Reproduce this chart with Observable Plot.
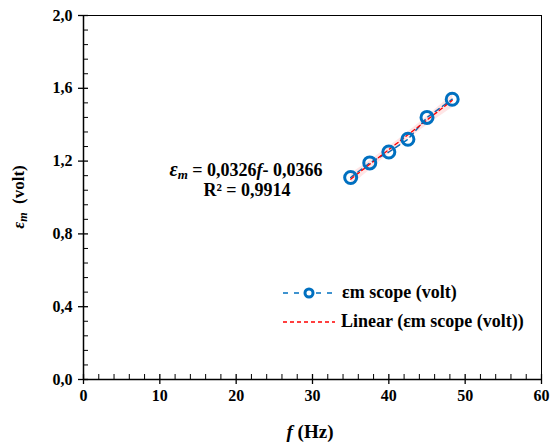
<!DOCTYPE html>
<html><head><meta charset="utf-8">
<script src="https://cdn.jsdelivr.net/npm/d3@7"></script>
<script src="https://cdn.jsdelivr.net/npm/@observablehq/plot@0.6"></script>
<style>
body{margin:0;background:#fff;}
#chart{position:relative;width:550px;height:446px;}
</style>
</head><body><div id="chart"></div>
<script>
// Data
const freq = [35, 37.5, 40, 42.5, 45, 48.3];
const emf  = [1.11, 1.19, 1.25, 1.32, 1.44, 1.54];
const xTicks = [0, 10, 20, 30, 40, 50, 60];
const yTicks = [0, 0.4, 0.8, 1.2, 1.6, 2.0];
const xMinorTicks = [2,4,6,8,12,14,16,18,22,24,26,28,32,34,36,38,42,44,46,48,52,54,56,58];
const yMinorTicks = [0.08,0.16,0.24,0.32,0.48,0.56,0.64,0.72,0.88,0.96,1.04,1.12,1.28,1.36,1.44,1.52,1.68,1.76,1.84,1.92];
const seriesName = "εm scope (volt)";
const trendName = "Linear (εm scope (volt))";
const eqSlope = "0,0326";
const eqIntercept = "0,0366";
const rSquared = "0,9914";

const BLUE = "#0070C0";
const RED = "#FF0000";
const FONT = "'Liberation Serif', 'Times New Roman', serif";

const rows = freq.map((f, i) => ({f, e: emf[i]}));
const fmt = d => d.toFixed(1).replace(".", ",");

const plot = Plot.plot({
  width: 550,
  height: 446,
  marginLeft: 83,
  marginRight: 9,
  marginTop: 15,
  marginBottom: 67,
  style: {fontFamily: FONT, fontSize: "16px", fontWeight: "bold", color: "#000", background: "#fff"},
  x: {domain: [0, 60]},
  y: {domain: [0, 2]},
  marks: [
    Plot.frame({stroke: "#000", strokeWidth: 1}),
    Plot.axisX({ticks: xTicks, tickSize: 5, tickPadding: 5, fontSize: 16, tickFormat: d => String(d), label: null, strokeWidth: 1.3}),
    Plot.axisX({ticks: xTicks, tickSize: 5, dy: -5, text: null, label: null, strokeWidth: 1.3}),
    Plot.axisX({ticks: xMinorTicks, tickSize: 5, dy: -5, text: null, label: null}),
    Plot.axisY({ticks: yTicks, tickSize: 5, tickPadding: 6, fontSize: 16, tickFormat: fmt, label: null, strokeWidth: 1.3}),
    Plot.axisY({ticks: yTicks, tickSize: 5, dx: 5, text: null, label: null, strokeWidth: 1.3}),
    Plot.axisY({ticks: yMinorTicks, tickSize: 5, dx: 5, text: null, label: null}),
    Plot.ruleX([0], {stroke: "#000", strokeWidth: 1.5}),
    Plot.ruleY([0], {stroke: "#000", strokeWidth: 1.5}),
    Plot.line(rows, {x: "f", y: "e", stroke: BLUE, strokeWidth: 1.5, strokeDasharray: "5,4"}),
    Plot.linearRegressionY(rows, {x: "f", y: "e", stroke: RED, strokeWidth: 1.3, strokeDasharray: "4,3"}),
    Plot.dot(rows, {x: "f", y: "e", r: 6, stroke: BLUE, strokeWidth: 3, fill: "none"})
  ]
});

document.getElementById("chart").appendChild(plot);
const svg = d3.select(plot);

// Y axis title
const yt = svg.append("text")
  .attr("transform", "translate(24,197) rotate(-90)")
  .attr("text-anchor", "middle")
  .style("font-family", FONT).style("font-weight", "bold").style("font-size", "17px").attr("fill", "#000");
yt.append("tspan").style("font-style", "italic").text("ε");
yt.append("tspan").style("font-style", "italic").style("font-size", "12px").attr("dy", 3).text("m");
yt.append("tspan").attr("dy", -3).text("\u00a0 (volt)");

// X axis title
const xt = svg.append("text")
  .attr("x", 310).attr("y", 438)
  .attr("text-anchor", "middle")
  .style("font-family", FONT).style("font-weight", "bold").style("font-size", "19px").attr("fill", "#000");
xt.append("tspan").style("font-style", "italic").text("f");
xt.append("tspan").text(" (Hz)");

// Equation
const eq = svg.append("g").style("font-family", FONT).style("font-weight", "bold").style("font-size", "18px").attr("fill", "#000");
const l1 = eq.append("text").attr("x", 246).attr("y", 176).attr("text-anchor", "middle");
l1.append("tspan").style("font-style", "italic").style("font-size", "20px").text("ε");
l1.append("tspan").style("font-style", "italic").style("font-size", "13px").attr("dy", 3).text("m");
l1.append("tspan").attr("dy", -3).text(" = " + eqSlope);
l1.append("tspan").style("font-style", "italic").text("f");
l1.append("tspan").text("- " + eqIntercept);
eq.append("text").attr("x", 247).attr("y", 196).attr("text-anchor", "middle").text("R² = " + rSquared);

// Legend
const lg = svg.append("g").style("font-family", FONT).style("font-weight", "bold").style("font-size", "18px").attr("fill", "#000");
lg.append("line").attr("x1", 283).attr("x2", 335).attr("y1", 293).attr("y2", 293)
  .attr("stroke", BLUE).attr("stroke-width", 1.5).attr("stroke-dasharray", "5,6");
lg.append("circle").attr("cx", 309).attr("cy", 293).attr("r", 4).attr("fill", "#fff")
  .attr("stroke", BLUE).attr("stroke-width", 3);
lg.append("text").attr("x", 342).attr("y", 298).attr("text-anchor", "start").text(seriesName);
lg.append("line").attr("x1", 283).attr("x2", 335).attr("y1", 322).attr("y2", 322)
  .attr("stroke", RED).attr("stroke-width", 1.3).attr("stroke-dasharray", "4,3");
lg.append("text").attr("x", 341).attr("y", 327).attr("text-anchor", "start").text(trendName);
</script>
</body></html>
